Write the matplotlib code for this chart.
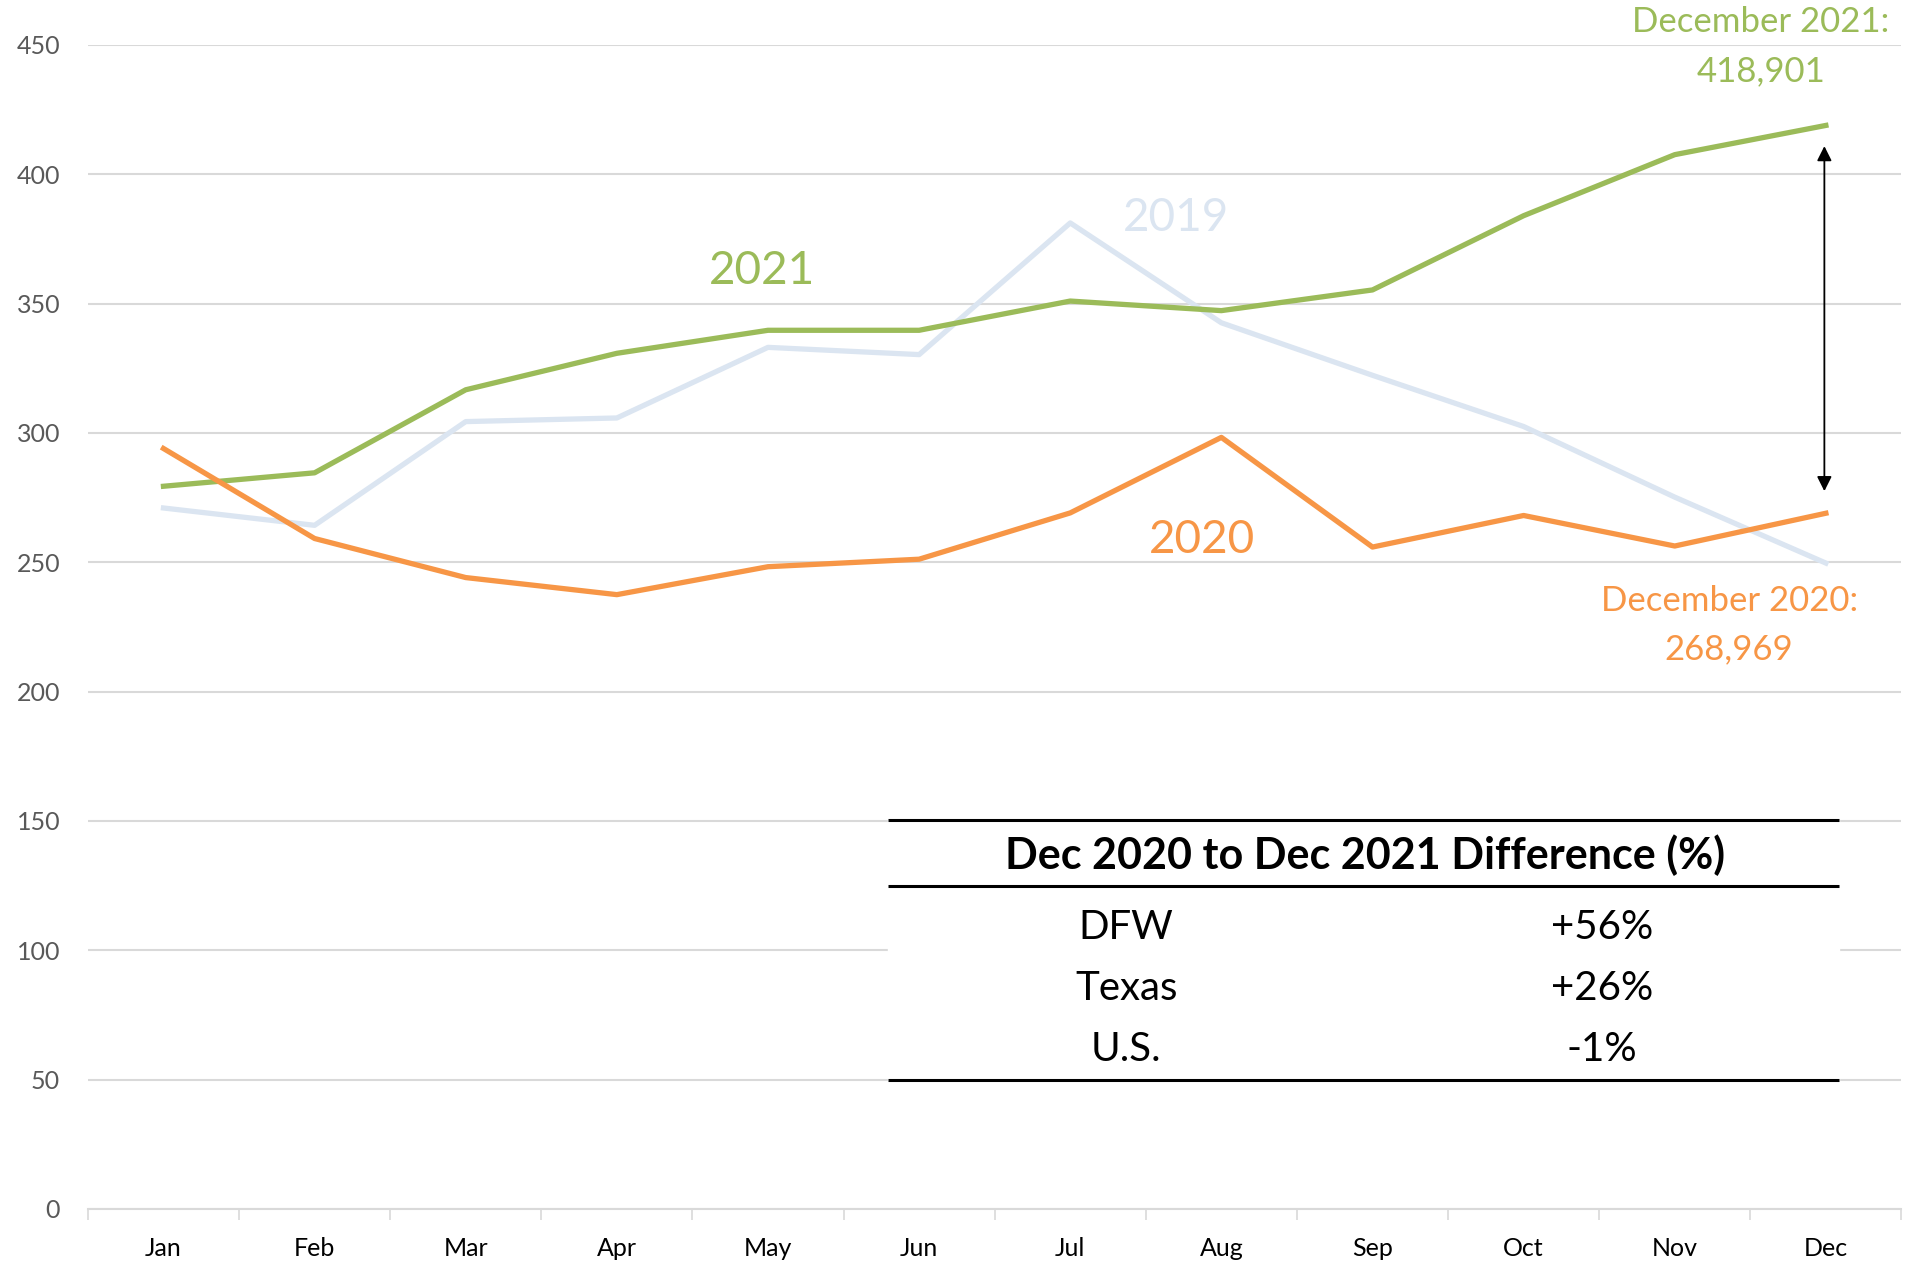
import numpy as np
import matplotlib
matplotlib.use("Agg")
import matplotlib.pyplot as plt

# Monthly values (thousands)
months = ["Jan", "Feb", "Mar", "Apr", "May", "Jun", "Jul", "Aug", "Sep", "Oct", "Nov", "Dec"]
y2019 = [271.0, 264.3, 304.4, 305.8, 333.1, 330.3, 381.2, 342.6, 322.3, 302.5, 275.2, 249.7]
y2020 = [294.0, 259.2, 244.1, 237.5, 248.3, 251.2, 269.1, 298.3, 255.9, 268.1, 256.3, 268.969]
y2021 = [279.4, 284.6, 316.7, 330.8, 339.7, 339.7, 351.0, 347.3, 355.3, 384.0, 407.6, 418.901]

table_title = "Dec 2020 to Dec 2021 Difference (%)"
regions = ["DFW", "Texas", "U.S."]
diffs = ["+56%", "+26%", "-1%"]

green = "#9BBB59"
orange = "#F79646"
blue = "#DBE5F1"
grid_c = "#D9D9D9"

plt.rcParams['font.family'] = ['Lato', 'DejaVu Sans']

fig = plt.figure(figsize=(19.11, 12.67), dpi=100)
ax = fig.add_axes([0.046, 0.0458, 0.949, 0.9187])

x = np.arange(len(months))
ax.plot(x, y2019, color=blue, lw=3.8, zorder=3)
ax.plot(x, y2021, color=green, lw=3.8, zorder=4)
ax.plot(x, y2020, color=orange, lw=3.8, zorder=5)

ax.set_xlim(-0.5, 11.5)
ax.set_ylim(0, 450)
ax.set_yticks(np.arange(0, 451, 50))
ax.yaxis.grid(True, color=grid_c, lw=1.5, zorder=0)
ax.set_axisbelow(True)
for s in ["top", "right", "left"]:
    ax.spines[s].set_visible(False)
ax.spines["bottom"].set_color(grid_c)
ax.spines["bottom"].set_linewidth(1.5)

ax.set_xticks(x)
ax.set_xticklabels(months)
ax.set_xticks(np.arange(-0.5, 12, 1), minor=True)
ax.tick_params(axis='x', which='major', length=0, pad=20, labelsize=18, labelcolor='#000000')
ax.tick_params(axis='x', which='minor', length=8, width=1.2, color=grid_c, direction='out')
ax.tick_params(axis='y', length=0, pad=20, labelsize=18, labelcolor='#595959')

# series labels
ax.text(3.96, 362.8, "2021", color=green, fontsize=33, ha='center', va='center')
ax.text(6.70, 383.1, "2019", color=blue, fontsize=33, ha='center', va='center')
ax.text(6.87, 258.7, "2020", color=orange, fontsize=33, ha='center', va='center')

ax.text(10.57, 459, "December 2021:", color=green, fontsize=25, ha='center', va='center', clip_on=False)
ax.text(10.57, 440, "418,901", color=green, fontsize=25, ha='center', va='center', clip_on=False)
ax.text(10.36, 235.1, "December 2020:", color=orange, fontsize=25, ha='center', va='center')
ax.text(10.36, 216.3, "268,969", color=orange, fontsize=25, ha='center', va='center')

# double arrow between Dec values
ax.annotate("", xy=(10.99, 410.9), xytext=(10.99, 277.5),
            arrowprops=dict(arrowstyle='<|-|>', color='black', lw=1.3, mutation_scale=22, shrinkA=0, shrinkB=0),
            zorder=6)

# difference table
x0, x1 = 4.795, 11.09
ax.fill_between([x0, x1], 50, 150.3, color='white', zorder=1)
for yy in [150.3, 124.9, 49.9]:
    ax.plot([x0, x1], [yy, yy], color='black', lw=2.2, zorder=2, solid_capstyle='butt')
ax.text(7.95, 136.8, table_title, fontsize=31, fontweight='bold', ha='center', va='center')
row_y = [108.9, 85.3, 61.7]
for r, d, yy in zip(regions, diffs, row_y):
    ax.text(6.37, yy, r, fontsize=29, ha='center', va='center')
    ax.text(9.52, yy, d, fontsize=29, ha='center', va='center')

fig.savefig("out.png", dpi=100)
